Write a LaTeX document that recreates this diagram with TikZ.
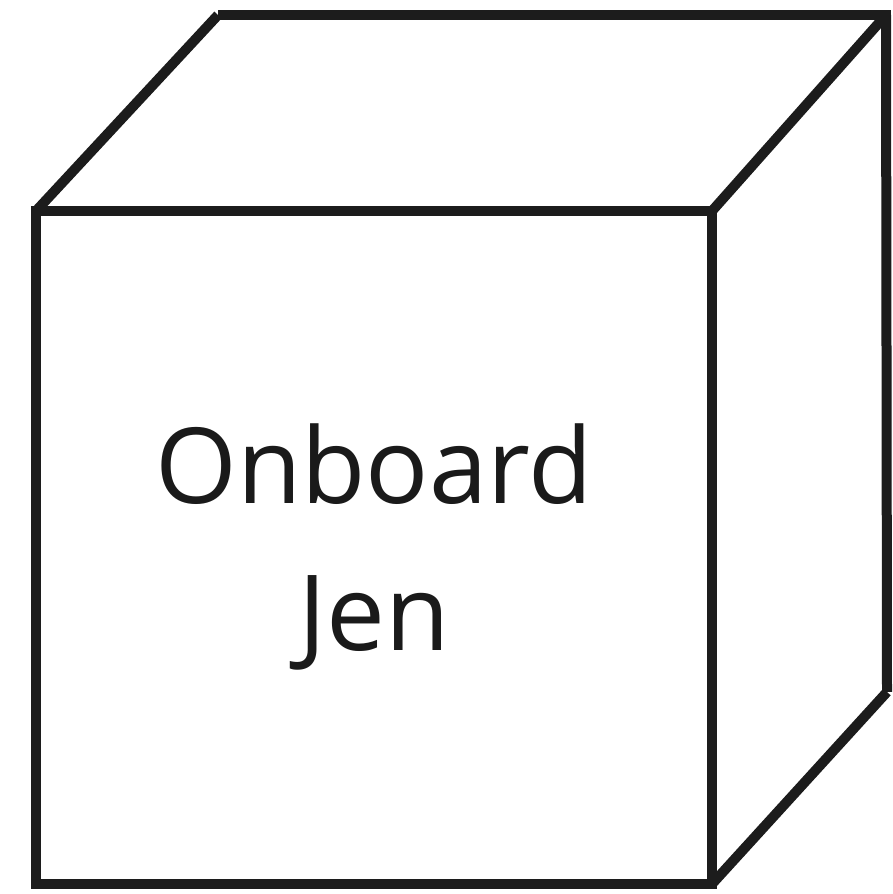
\documentclass[tikz,border=0pt]{standalone}
\usepackage{fontspec}
\setmainfont{Open Sans}
\definecolor{edge}{HTML}{1C1C1C}
\definecolor{ink}{HTML}{1A1A1A}
\begin{document}
\begin{tikzpicture}[x=1pt,y=1pt,
  cubeedge/.style={draw=edge,line width=10pt,line join=miter,line cap=rect},
  label/.style={text=ink,align=center,font=\fontsize{105}{147}\selectfont}]
\useasboundingbox (0,0) rectangle (892,894);
% front face corners
\coordinate (ftl) at (36,683);
\coordinate (ftr) at (712,683);
\coordinate (fbr) at (712,10);
\coordinate (fbl) at (36,10);
% back corners
\coordinate (btl) at (218,879);
\coordinate (btr) at (886,879);
\coordinate (bbr) at (887,202);
\draw[cubeedge] (ftl) -- (ftr) -- (fbr) -- (fbl) -- cycle;
\draw[cubeedge,line cap=butt] (ftl) -- (btl);
\draw[cubeedge] (223,879) -- (btr);
\draw[cubeedge,line cap=butt] (ftr) -- (btr);
\draw[cubeedge,line cap=butt] (btr) -- (bbr);
\draw[cubeedge,line cap=butt] (fbr) -- (bbr);
\node[label] (txt) at (374,347) {Onboard\\Jen};
\end{tikzpicture}
\end{document}
